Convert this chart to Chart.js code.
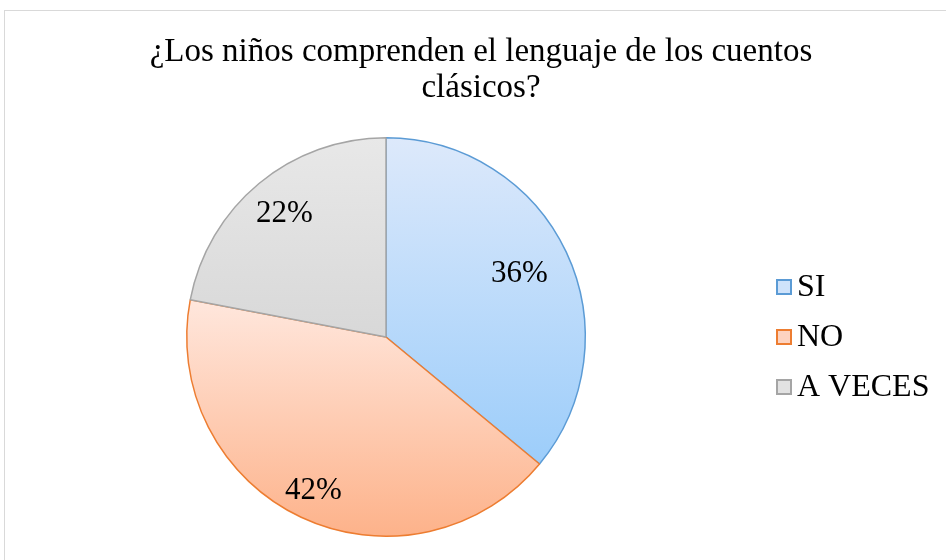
<!DOCTYPE html>
<html lang="es">
<head>
  <meta charset="UTF-8">
  <title>¿Los niños comprenden el lenguaje de los cuentos clásicos?</title>
  <script src="https://cdn.jsdelivr.net/npm/chart.js"></script>
  <style>
    html, body { margin:0; padding:0; background:#fff; overflow:hidden; }
    .frame { position:absolute; left:4px; top:10px; width:960px; height:580px; border:1px solid #d9d9d9; }
    .wrap { position:absolute; left:0; top:0; width:946px; height:560px; }
  </style>
</head>
<body>
<div class="frame"></div>
<div class="wrap"><canvas id="pie"></canvas></div>

<script>
// data
const categories = ['SI', 'NO', 'A VECES'];
const percents = [36, 42, 22];
const titleLines = ['¿Los niños comprenden el lenguaje de los cuentos', 'clásicos?'];

// look
const fillTop = ['#dde9fb', '#ffe7dd', '#e8e8e8'];
const fillBottom = ['#9ccdfa', '#fdb28a', '#d8d8d8'];
const legendFill = ['#cfe3fb', '#fdd3c0', '#e2e2e2'];
const edgeColors = ['#5b9bd5', '#ed7d31', '#a5a5a5'];
const labelDist = [0.74, 0.855, 0.8];
const SERIF = "'Liberation Serif', 'Times New Roman', serif";

// excel-like vertical gradient per slice
const sliceGradient = {
  id: 'sliceGradient',
  beforeDatasetsDraw(chart) {
    const ctx = chart.ctx;
    chart.getDatasetMeta(0).data.forEach((arc, i) => {
      const {x, y, startAngle, endAngle, outerRadius} = arc.getProps(['x','y','startAngle','endAngle','outerRadius'], true);
      let ys = [y, y + Math.sin(startAngle) * outerRadius, y + Math.sin(endAngle) * outerRadius];
      [-Math.PI/2, Math.PI/2, 3*Math.PI/2].forEach(a => {
        if (a > startAngle && a < endAngle) ys.push(y + Math.sin(a) * outerRadius);
      });
      const g = ctx.createLinearGradient(0, Math.min(...ys), 0, Math.max(...ys));
      g.addColorStop(0, fillTop[i]);
      g.addColorStop(1, fillBottom[i]);
      arc.options.backgroundColor = g;
    });
  }
};

const pctLabels = {
  id: 'pctLabels',
  afterDatasetsDraw(chart) {
    const ctx = chart.ctx;
    ctx.save();
    ctx.font = '31px ' + SERIF;
    ctx.fillStyle = '#000';
    ctx.textAlign = 'center';
    ctx.textBaseline = 'middle';
    chart.getDatasetMeta(0).data.forEach((arc, i) => {
      const {x, y, startAngle, endAngle, outerRadius} = arc.getProps(['x','y','startAngle','endAngle','outerRadius'], true);
      const mid = (startAngle + endAngle) / 2;
      const r = outerRadius * labelDist[i];
      ctx.fillText(percents[i] + '%', x + Math.cos(mid) * r, y + Math.sin(mid) * r);
    });
    ctx.restore();
  }
};

// title centred on the whole frame, not on the pie area
const frameTitle = {
  id: 'frameTitle',
  afterDraw(chart) {
    const ctx = chart.ctx;
    ctx.save();
    ctx.font = '33px ' + SERIF;
    ctx.fillStyle = '#000';
    ctx.textAlign = 'center';
    ctx.textBaseline = 'middle';
    titleLines.forEach((t, i) => ctx.fillText(t, chart.width / 2 + 8, 52 + i * 36));
    ctx.restore();
  }
};

// legend drawn beside the pie, office style (box close to the text)
const sideLegend = {
  id: 'sideLegend',
  afterDraw(chart) {
    const ctx = chart.ctx;
    const a = chart.chartArea;
    const left = a.right + 5;
    const step = 50;
    const midY = (a.top + a.bottom) / 2;
    ctx.save();
    ctx.font = '32px ' + SERIF;
    ctx.textBaseline = 'middle';
    categories.forEach((c, i) => {
      const cy = midY + (i - (categories.length - 1) / 2) * step;
      ctx.fillStyle = legendFill[i];
      ctx.fillRect(left, cy - 7, 14, 14);
      ctx.strokeStyle = edgeColors[i];
      ctx.lineWidth = 2;
      ctx.strokeRect(left, cy - 7, 14, 14);
      ctx.fillStyle = '#000';
      ctx.fillText(c, left + 20, cy + 1);
    });
    ctx.restore();
  }
};

new Chart(document.getElementById('pie'), {
  type: 'pie',
  data: {
    labels: categories,
    datasets: [{
      data: percents,
      backgroundColor: legendFill,
      borderColor: edgeColors,
      borderWidth: 1.5
    }]
  },
  options: {
    responsive: true,
    maintainAspectRatio: false,
    animation: false,
    layout: { padding: { left: 0, right: 174, top: 137, bottom: 23 } },
    plugins: {
      title: { display: false },
      legend: { display: false },
      tooltip: { enabled: false }
    }
  },
  plugins: [sliceGradient, pctLabels, frameTitle, sideLegend]
});
</script>
</body>
</html>
